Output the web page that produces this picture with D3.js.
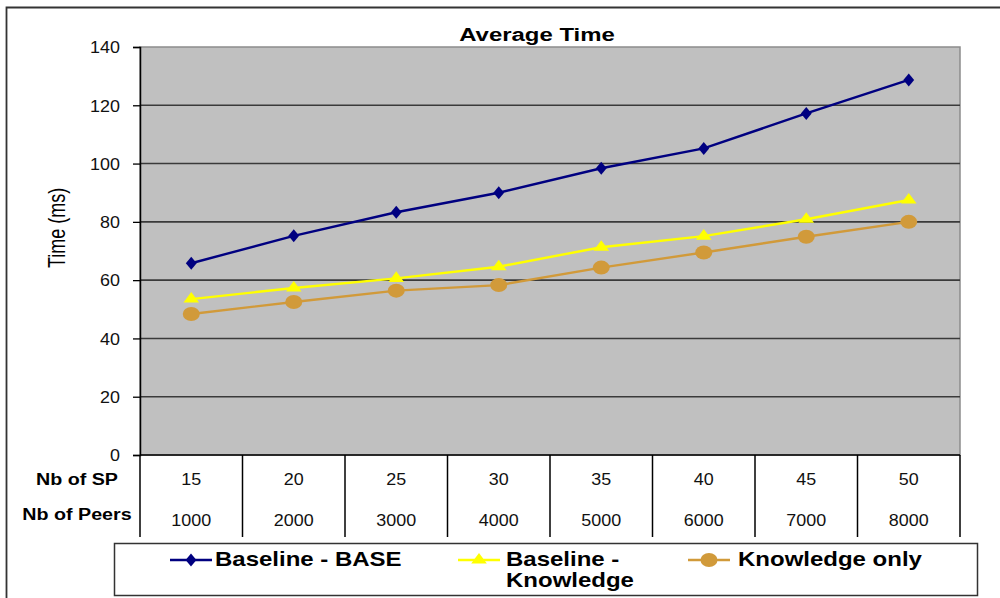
<!DOCTYPE html>
<html>
<head>
<meta charset="utf-8">
<script src="https://cdn.jsdelivr.net/npm/d3@7"></script>
<style>
  body { margin: 0; background: #fff; }
  svg text { font-family: "Liberation Sans", Arial, sans-serif; }
</style>
</head>
<body>
<div id="app"></div>
<script>
// categories (two label rows under the axis)
const nbSP    = [15, 20, 25, 30, 35, 40, 45, 50];
const nbPeers = [1000, 2000, 3000, 4000, 5000, 6000, 7000, 8000];
const yTicks  = [0, 20, 40, 60, 80, 100, 120, 140];

// series values
const baseBASE   = [65.8, 75.2, 83.3, 90.0, 98.4, 105.2, 117.2, 128.7];
const baseKnow   = [53.5, 57.3, 60.6, 64.6, 71.3, 75.1, 80.9, 87.5];
const knowOnly   = [48.4, 52.5, 56.4, 58.3, 64.3, 69.5, 74.9, 80.0];
const seriesNames = [["Baseline - BASE"], ["Baseline -", "Knowledge"], ["Knowledge only"]];

const W = 1000, H = 598;
const m = { t: 47, r: 40, b: 143, l: 140 };

const svg = d3.select("#app").append("svg")
    .attr("width", W).attr("height", H);

// the original is stretched sideways, so text gets a horizontal scale
function addText(parent, x, y, str, size, bold, sx, anchor) {
    return parent.append("text")
        .attr("transform", "translate(" + x + "," + y + ") scale(" + sx + ",1)")
        .attr("text-anchor", anchor || "start")
        .style("font-size", size + "px")
        .style("font-weight", bold ? "bold" : "normal")
        .attr("fill", bold ? "#000" : "#111")
        .text(str);
}

// outer frame (top + left only visible)
svg.append("path")
    .attr("d", "M6.5,598 V7.5 H1000")
    .attr("fill", "none").attr("stroke", "#333").attr("stroke-width", 1.8);

const xScale = d3.scaleBand()
    .domain(nbSP.map((d, i) => i))
    .range([m.l, W - m.r])
    .paddingInner(0).paddingOuter(0);

const yScale = d3.scaleLinear()
    .domain([0, 140])
    .range([H - m.b, m.t]);

const cx = (i) => xScale(i) + xScale.bandwidth() / 2;

// plot background
svg.append("rect")
    .attr("x", m.l).attr("y", m.t)
    .attr("width", W - m.r - m.l).attr("height", H - m.b - m.t)
    .attr("fill", "#c0c0c0")
    .attr("stroke", "#8c8c8c").attr("stroke-width", 1.5);

// gridlines
svg.append("g")
    .selectAll("line")
    .data(yTicks.slice(1, -1)).enter()
    .append("line")
        .attr("x1", m.l).attr("x2", W - m.r)
        .attr("y1", d => yScale(d)).attr("y2", d => yScale(d))
        .attr("stroke", "#3a3a3a").attr("stroke-width", 1.6);

// y axis
const yAxis = svg.append("g")
    .attr("transform", "translate(" + m.l + ",0)")
    .call(d3.axisLeft(yScale).tickValues(yTicks).tickSize(7).tickPadding(11));
yAxis.select(".domain").attr("stroke", "#000").attr("stroke-width", 1.5);
yAxis.selectAll(".tick line").attr("stroke", "#000").attr("stroke-width", 1.3);
yAxis.selectAll(".tick text")
    .style("font-size", "16px").attr("fill", "#111")
    .style("font-family", "'Liberation Sans', Arial, sans-serif")
    .attr("dy", "0.36em")
    .attr("transform", "scale(1.12,1)");

// x axis line
svg.append("line")
    .attr("x1", m.l).attr("x2", W - m.r)
    .attr("y1", yScale(0)).attr("y2", yScale(0))
    .attr("stroke", "#000").attr("stroke-width", 1.5);

// y label
svg.append("text")
    .attr("transform", "translate(65,228) scale(1.3,1) rotate(-90)")
    .attr("text-anchor", "middle")
    .style("font-size", "18px")
    .text("Time (ms)");

// title
addText(svg, 537, 41, "Average Time", 19, true, 1.26, "middle");

// data table under x axis
const tableBottom = 537;
const table = svg.append("g");
table.selectAll("line")
    .data(d3.range(nbSP.length + 1)).enter()
    .append("line")
        .attr("x1", i => m.l + i * xScale.bandwidth())
        .attr("x2", i => m.l + i * xScale.bandwidth())
        .attr("y1", yScale(0)).attr("y2", tableBottom)
        .attr("stroke", "#000").attr("stroke-width", 1.5);

const rows = [
    { label: "Nb of SP", vals: nbSP, ly: 485, y: 485 },
    { label: "Nb of Peers", vals: nbPeers, ly: 520, y: 526 }
];
rows.forEach(r => {
    addText(table, 77, r.ly, r.label, 16, true, 1.23, "middle");
    r.vals.forEach((v, i) => addText(table, cx(i), r.y, v, 16, false, 1.12, "middle"));
});

// lines + markers
const line = d3.line().x((d, i) => cx(i)).y(d => yScale(d));
const colors = ["#000080", "#ffff00", "#d19a3a"];
const allSeries = [baseBASE, baseKnow, knowOnly];

const diamond = d3.symbol().type(d3.symbolDiamond).size(60);
const triangle = d3.symbol().type(d3.symbolTriangle).size(80);

function marker(g, k, x, y) {
    if (k === 0) {
        g.append("path").attr("d", diamond())
            .attr("transform", "translate(" + x + "," + y + ") scale(1.3,0.9)")
            .attr("fill", colors[k]);
    } else if (k === 1) {
        g.append("path").attr("d", triangle())
            .attr("transform", "translate(" + x + "," + y + ") scale(1.15,0.9)")
            .attr("fill", colors[k]);
    } else {
        g.append("ellipse")
            .attr("cx", x).attr("cy", y).attr("rx", 8.5).attr("ry", 7)
            .attr("fill", colors[k]);
    }
}

[2, 1, 0].forEach(k => {
    const g = svg.append("g");
    g.append("path")
        .datum(allSeries[k])
        .attr("d", line)
        .attr("fill", "none")
        .attr("stroke", colors[k])
        .attr("stroke-width", 2.4);
    allSeries[k].forEach((v, i) => marker(g, k, cx(i), yScale(v)));
});

// legend
const legend = svg.append("g");
legend.append("rect")
    .attr("x", 114.5).attr("y", 543.5)
    .attr("width", 863).attr("height", 52)
    .attr("fill", "#fff").attr("stroke", "#333").attr("stroke-width", 1.5);

const legendItems = [
    { x: 170, tx: 215 },
    { x: 458, tx: 506 },
    { x: 688, tx: 738 }
];
legendItems.forEach((it, k) => {
    const ly = 560;
    legend.append("line")
        .attr("x1", it.x).attr("x2", it.x + 42)
        .attr("y1", ly).attr("y2", ly)
        .attr("stroke", colors[k]).attr("stroke-width", 2.4);
    marker(legend, k, it.x + 21, ly);
    seriesNames[k].forEach((s, j) => {
        addText(legend, it.tx, 566 + j * 21, s, 20, true, 1.2, "start");
    });
});
</script>
</body>
</html>
